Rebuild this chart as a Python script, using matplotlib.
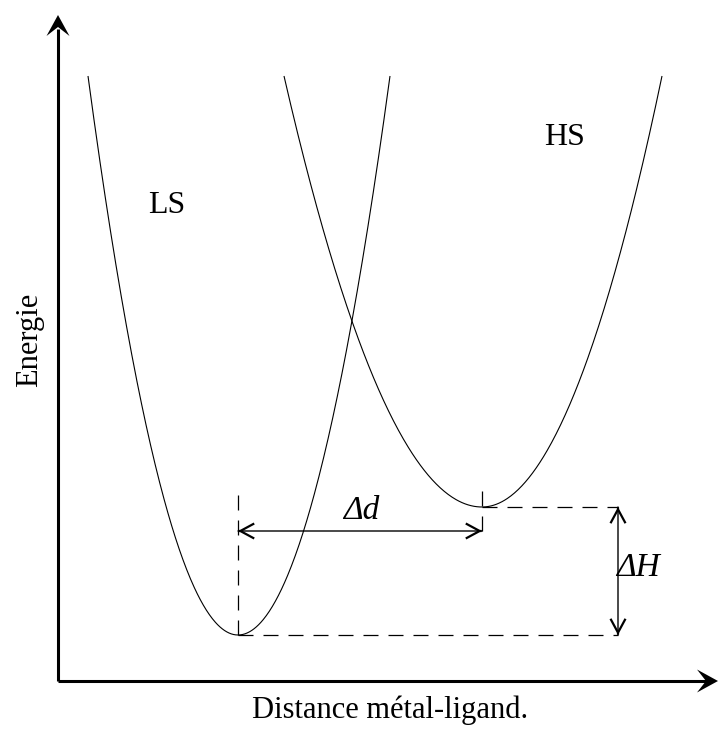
import numpy as np
import matplotlib
matplotlib.use("Agg")
import matplotlib.pyplot as plt
from matplotlib.patches import Polygon, FancyArrowPatch

# Potential wells (distance r, energy E) in arbitrary units, origin at axis corner
states = ["LS", "HS"]
r_min = [180, 424]          # equilibrium metal-ligand distance
E_min = [46, 174]           # energy at the minimum
r_left_top = [30, 226]      # distance where the left branch reaches E_top
r_right_top = [332, 604]    # distance where the right branch reaches E_top
E_top = 605

label_pos = {"LS": (109, 476), "HS": (507, 544)}

# Annotation levels
dd_level = 150      # energy of the Δd arrow
dH_pos = 560        # distance of the ΔH arrow
dash_top = [188, 194]

X_MAX, Y_MAX = 660, 666

fig = plt.figure(figsize=(7.19, 7.29), dpi=100)
ax = fig.add_axes([0, 0, 1, 1])
ax.set_xlim(-58, 661)
ax.set_ylim(-48, 681)
ax.axis("off")

serif = ["Liberation Serif", "DejaVu Serif"]

# Wells: parabolic branches on each side of the minimum
for s, r0, e0, rl, rr in zip(states, r_min, E_min, r_left_top, r_right_top):
    kl = (E_top - e0) / (r0 - rl) ** 2
    kr = (E_top - e0) / (rr - r0) ** 2
    rL = np.linspace(rl, r0, 200)
    rR = np.linspace(r0, rr, 200)
    r = np.concatenate([rL, rR])
    E = np.concatenate([e0 + kl * (rL - r0) ** 2, e0 + kr * (rR - r0) ** 2])
    ax.plot(r, E, color="black", lw=0.8, solid_capstyle="butt")
    ax.text(*label_pos[s], s, family=serif, fontsize=23, ha="center", va="center")

# Axes with notched arrowheads
lw_axis = 2.2
ax.plot([0, 0], [0, Y_MAX - 14], color="black", lw=lw_axis, solid_capstyle="butt")
ax.plot([0, X_MAX - 12], [0, 0], color="black", lw=lw_axis, solid_capstyle="butt")
L, W, N = 21, 11.5, 12
ax.add_patch(Polygon([(0, Y_MAX), (-W, Y_MAX - L), (0, Y_MAX - N), (W, Y_MAX - L)],
                     closed=True, color="black", lw=0))
ax.add_patch(Polygon([(X_MAX, 0), (X_MAX - L, W), (X_MAX - N, 0), (X_MAX - L, -W)],
                     closed=True, color="black", lw=0))

ax.text(-28, 341, "Energie", family=serif, fontsize=22, rotation=90,
        ha="center", va="center")
ax.text(332, -29, "Distance métal-ligand.", family=serif, fontsize=22,
        ha="center", va="center")

# Dashed guide lines
dash = dict(color="black", lw=0.9, linestyle=(0, (12, 8)))
ax.plot([r_min[0], r_min[0]], [E_min[0], dash_top[0]], **dash)
ax.plot([r_min[1], r_min[1]], [dd_level, dash_top[1]], **dash)
ax.plot([r_min[0], dH_pos], [E_min[0], E_min[0]], **dash)
ax.plot([r_min[1], dH_pos], [E_min[1], E_min[1]], **dash)

# Δd and ΔH double arrows: thin shaft, bolder open heads at both ends
shaft_kw = dict(arrowstyle="-", color="black", lw=1.0, shrinkA=0, shrinkB=0)
head_kw = dict(arrowstyle="->,head_length=0.5,head_width=0.27",
               mutation_scale=20, color="black", lw=1.6, shrinkA=0, shrinkB=0,
               joinstyle="miter", capstyle="butt")
for a, b in [((r_min[0], dd_level), (r_min[1], dd_level)),
             ((dH_pos, E_min[0]), (dH_pos, E_min[1]))]:
    a, b = np.array(a, float), np.array(b, float)
    u = (b - a) / np.hypot(*(b - a))
    ax.add_patch(FancyArrowPatch(a, b, **shaft_kw))
    ax.add_patch(FancyArrowPatch(b - u, b, **head_kw))
    ax.add_patch(FancyArrowPatch(a + u, a, **head_kw))

ax.text(361 - 58, 170, "Δd", family=serif, style="italic", fontsize=24,
        ha="center", va="center")
ax.text(580, 113, "ΔH", family=serif, style="italic", fontsize=24,
        ha="center", va="center")

fig.savefig("out.png", dpi=100)
